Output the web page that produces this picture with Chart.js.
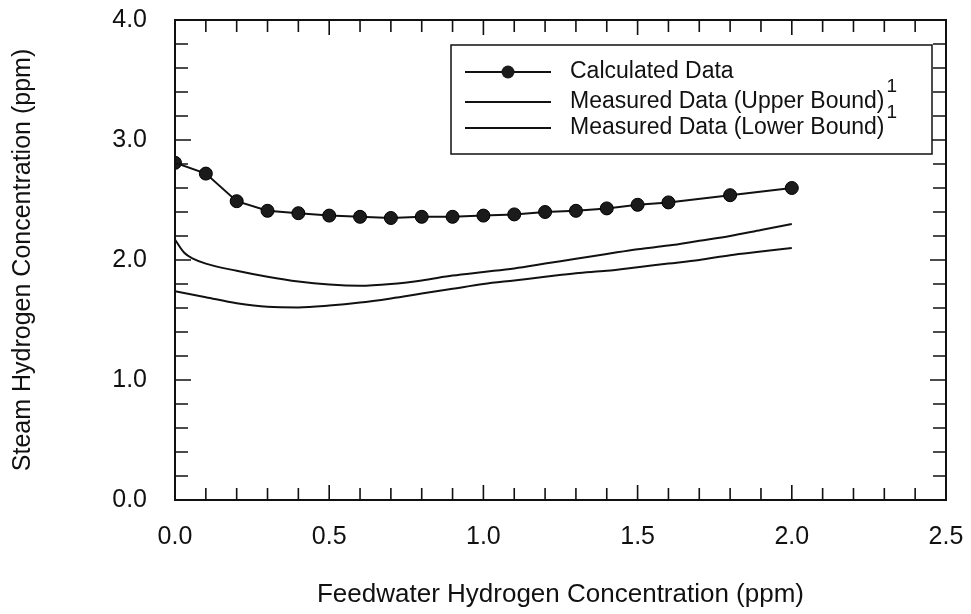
<!DOCTYPE html>
<html>
<head>
<meta charset="utf-8">
<title>Steam vs Feedwater Hydrogen Concentration</title>
<script src="https://cdn.jsdelivr.net/npm/chart.js@4.4.1/dist/chart.umd.min.js"></script>
<style>
  html, body { margin: 0; padding: 0; background: #fff; }
  #wrap { width: 971px; height: 614px; position: relative; }
</style>
</head>
<body>
<div id="wrap"><canvas id="chart"></canvas></div>
<script>
// Calculated data points (ppm)
const calcX = [0.0, 0.1, 0.2, 0.3, 0.4, 0.5, 0.6, 0.7, 0.8, 0.9, 1.0, 1.1, 1.2, 1.3, 1.4, 1.5, 1.6, 1.8, 2.0]
const calcY = [2.81, 2.72, 2.49, 2.41, 2.39, 2.37, 2.36, 2.35, 2.36, 2.36, 2.37, 2.38, 2.40, 2.41, 2.43, 2.46, 2.48, 2.54, 2.60]

// Measured data, upper bound curve
const upperX = [0.0, 0.03, 0.06, 0.1, 0.2, 0.3, 0.4, 0.5, 0.6, 0.7, 0.8, 0.9, 1.0, 1.1, 1.2, 1.3, 1.4, 1.5, 1.6, 1.7, 1.8, 1.9, 2.0]
const upperY = [2.17, 2.06, 2.01, 1.97, 1.91, 1.86, 1.82, 1.795, 1.785, 1.80, 1.83, 1.87, 1.90, 1.93, 1.97, 2.01, 2.05, 2.09, 2.12, 2.16, 2.20, 2.25, 2.30]

// Measured data, lower bound curve
const lowerX = [0.0, 0.1, 0.2, 0.3, 0.4, 0.5, 0.6, 0.7, 0.8, 0.9, 1.0, 1.1, 1.2, 1.3, 1.4, 1.5, 1.6, 1.7, 1.8, 1.9, 2.0]
const lowerY = [1.74, 1.69, 1.64, 1.61, 1.605, 1.62, 1.645, 1.68, 1.72, 1.76, 1.80, 1.83, 1.86, 1.89, 1.91, 1.94, 1.97, 2.00, 2.04, 2.07, 2.10]

const seriesLabels = ['Calculated Data', 'Measured Data (Upper Bound)', 'Measured Data (Lower Bound)']
const seriesNotes = ['', '1', '1']

const xTitle = 'Feedwater Hydrogen Concentration (ppm)'
const yTitle = 'Steam Hydrogen Concentration (ppm)'

const FONT = '"Liberation Sans", Arial, Helvetica, sans-serif'
const INK = '#111'

const toPoints = (xs, ys) => xs.map((x, i) => ({ x: x, y: ys[i] }))

// Frame with inward ticks on all four sides, plus the boxed legend
const framePlugin = {
  id: 'frame',
  afterDraw(chart) {
    const ctx = chart.ctx
    const a = chart.chartArea
    const xs = chart.scales.x
    const ys = chart.scales.y
    ctx.save()
    ctx.strokeStyle = INK
    ctx.lineWidth = 2
    ctx.strokeRect(a.left, a.top, a.right - a.left, a.bottom - a.top)

    ctx.lineWidth = 1.6
    ctx.beginPath()
    xs.ticks.forEach(t => {
      const px = xs.getPixelForValue(t.value)
      if (px <= a.left + 1 || px >= a.right - 1) return
      const major = Math.abs(t.value * 2 - Math.round(t.value * 2)) < 1e-6
      const len = major ? 15 : 12
      ctx.moveTo(px, a.bottom); ctx.lineTo(px, a.bottom - len)
      ctx.moveTo(px, a.top); ctx.lineTo(px, a.top + len)
    })
    ys.ticks.forEach(t => {
      const py = ys.getPixelForValue(t.value)
      if (py <= a.top + 1 || py >= a.bottom - 1) return
      const major = Math.abs(t.value - Math.round(t.value)) < 1e-6
      const len = major ? 16 : 13
      ctx.moveTo(a.left, py); ctx.lineTo(a.left + len, py)
      ctx.moveTo(a.right, py); ctx.lineTo(a.right - len, py)
    })
    ctx.stroke()

    // legend box
    const box = { left: 451, top: 45, right: 932, bottom: 154 }
    const rows = [72, 102, 128]
    ctx.fillStyle = '#fff'
    ctx.fillRect(box.left, box.top, box.right - box.left, box.bottom - box.top)
    ctx.lineWidth = 1.5
    ctx.strokeRect(box.left, box.top, box.right - box.left, box.bottom - box.top)

    chart.data.datasets.forEach((ds, i) => {
      const y = rows[i]
      ctx.strokeStyle = INK
      ctx.lineWidth = 1.8
      ctx.beginPath()
      ctx.moveTo(465, y); ctx.lineTo(551, y)
      ctx.stroke()
      if (ds.pointRadius > 0) {
        ctx.fillStyle = ds.pointBackgroundColor
        ctx.beginPath()
        ctx.arc(508, y, ds.pointRadius, 0, Math.PI * 2)
        ctx.fill()
      }
      ctx.fillStyle = INK
      ctx.font = '23px ' + FONT
      ctx.textBaseline = 'middle'
      ctx.textAlign = 'left'
      ctx.fillText(ds.label, 570, y)
      if (seriesNotes[i]) {
        const w = ctx.measureText(ds.label).width
        ctx.font = '19px ' + FONT
        ctx.fillText(seriesNotes[i], 570 + w + 2, y - 15)
      }
    })
    ctx.restore()
  }
}

const lineStyle = {
  borderColor: INK,
  borderWidth: 2,
  pointRadius: 0,
  fill: false,
  cubicInterpolationMode: 'monotone'
}

new Chart(document.getElementById('chart'), {
  type: 'line',
  data: {
    datasets: [
      {
        label: seriesLabels[0],
        data: toPoints(calcX, calcY),
        borderColor: INK,
        borderWidth: 2,
        pointRadius: 6.5,
        pointBackgroundColor: '#1b1b1b',
        pointBorderColor: '#000',
        pointBorderWidth: 1,
        fill: false,
        tension: 0
      },
      Object.assign({ label: seriesLabels[1], data: toPoints(upperX, upperY) }, lineStyle),
      Object.assign({ label: seriesLabels[2], data: toPoints(lowerX, lowerY) }, lineStyle)
    ]
  },
  options: {
    responsive: true,
    maintainAspectRatio: false,
    animation: false,
    devicePixelRatio: 1,
    layout: { padding: { top: 20, right: 25, left: 0, bottom: 0 } },
    plugins: {
      legend: { display: false },
      tooltip: { enabled: false }
    },
    scales: {
      x: {
        type: 'linear',
        min: 0,
        max: 2.5,
        grid: { display: false, drawTicks: false },
        border: { display: false },
        ticks: {
          stepSize: 0.1,
          autoSkip: false,
          maxRotation: 0,
          padding: 22,
          color: INK,
          font: { family: FONT, size: 25 },
          callback: v => Math.abs(v * 2 - Math.round(v * 2)) < 1e-6 ? v.toFixed(1) : ''
        },
        title: {
          display: true,
          text: xTitle,
          color: INK,
          font: { family: FONT, size: 26 },
          padding: { top: 0, bottom: 4 }
        },
        afterFit: s => {
          s.height = 114
          s.paddingLeft = 0
          s.paddingRight = 0
        }
      },
      y: {
        min: 0,
        max: 4,
        grid: { display: false, drawTicks: false },
        border: { display: false },
        ticks: {
          stepSize: 0.2,
          autoSkip: false,
          padding: 28,
          color: INK,
          font: { family: FONT, size: 25 },
          callback: v => Math.abs(v - Math.round(v)) < 1e-6 ? v.toFixed(1) : ''
        },
        title: {
          display: true,
          text: yTitle,
          color: INK,
          font: { family: FONT, size: 25 },
          padding: { top: 8, bottom: 0 }
        },
        afterFit: s => {
          s.width = 175
          s.paddingTop = 0
          s.paddingBottom = 0
        }
      }
    }
  },
  plugins: [framePlugin]
})
</script>
</body>
</html>
